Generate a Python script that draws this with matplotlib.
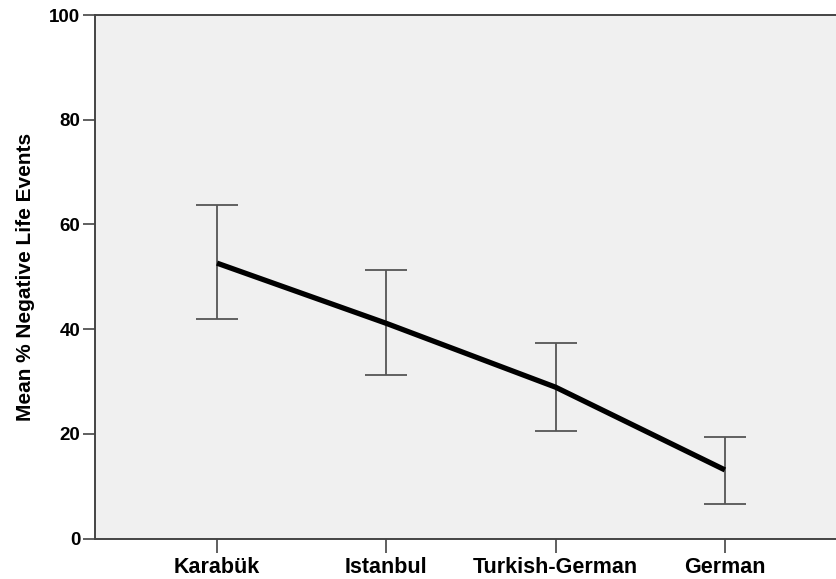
import matplotlib
matplotlib.use("Agg")
import matplotlib.pyplot as plt
import numpy as np

categories = ["Karabük", "Istanbul", "Turkish-German", "German"]
means = [52.6, 41.1, 28.9, 13.1]
upper = [63.7, 51.2, 37.3, 19.4]
lower = [41.9, 31.3, 20.5, 6.6]
yticks = [0, 20, 40, 60, 80, 100]

plt.rcParams['font.family'] = ['Liberation Sans', 'DejaVu Sans']
plt.rcParams['font.weight'] = 'bold'

fig = plt.figure(figsize=(8.37, 5.79), dpi=100)
ax = fig.add_axes([95/837, 1 - 538.5/579, (847 - 95)/837, (538.5 - 15)/579])
ax.set_facecolor('#f0f0f0')

x = np.arange(len(categories))
m = np.array(means)
yerr = np.array([m - np.array(lower), np.array(upper) - m])

ax.errorbar(x, m, yerr=yerr, fmt='none', ecolor='#555555', elinewidth=1.3,
            capsize=15, capthick=1.3, zorder=2)
ax.plot(x, m, color='black', linewidth=3.8, solid_capstyle='butt', zorder=3)

ax.set_xlim(-0.7206, 3.721)
ax.set_ylim(0, 100)
ax.set_yticks(yticks)
ax.set_yticklabels([str(v) for v in yticks], fontsize=13.5, fontweight='bold')
ax.set_xticks(x)
ax.set_xticklabels(categories, fontsize=15.5, fontweight='bold')
ax.tick_params(axis='y', length=9, width=1.2, color='#444444', pad=1.5)
ax.tick_params(axis='x', length=10, width=1.2, color='#444444', pad=3.5)

ax.set_ylabel("Mean % Negative Life Events", fontsize=15, fontweight='bold', labelpad=10)

for s in ['left', 'bottom', 'top', 'right']:
    ax.spines[s].set_color('#444444')
    ax.spines[s].set_linewidth(1.4)

fig.savefig("out.png", dpi=100)
